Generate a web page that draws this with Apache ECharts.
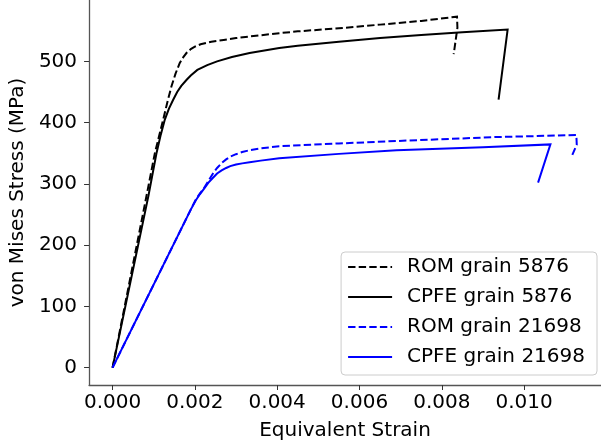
<!DOCTYPE html>
<html>
<head>
<meta charset="utf-8">
<script src="https://cdn.jsdelivr.net/npm/echarts@6/dist/echarts.min.js"></script>
<style>
html,body{margin:0;padding:0;background:#fff;}
#chart{width:601px;height:446px;}
</style>
</head>
<body>
<div id="chart"></div>
<script>
// Data (strain, von Mises stress in MPa)
const romGrain5876 = [
  [0,0],[0.0008,272],[0.00103,351],[0.00123,405],[0.00133,433],[0.00143,459],
  [0.00153,480],[0.00163,497],[0.00172,507],[0.0018,514],[0.0019,520],[0.002,524],
  [0.00214,528],[0.0024,532],[0.0027,535],[0.003,538],[0.00333,540.6],
  [0.00405,546],[0.0045,549],[0.0055,554],[0.0065,560],[0.0075,566],[0.00837,573],
  [0.00838,555],[0.00829,512]
];
const cpfeGrain5876 = [
  [0,0],[0.00087,280],[0.00107,351],[0.00117,380],[0.00127,405],[0.00137,423],
  [0.00147,437],[0.00157,450],[0.00167,460],[0.0018,470],[0.0019,477],[0.00206,486],
  [0.0023,494],[0.00254,500],[0.0029,507],[0.00333,513.6],[0.00405,521.7],
  [0.0045,525.5],[0.0055,532],[0.0065,538],[0.0075,543],[0.0085,547.5],[0.0096,552],
  [0.00938,437.7]
];
const romGrain21698 = [
  [0,0],[0.0019,258],[0.00202,274],[0.00212,284],[0.00222,293],[0.00233,305],
  [0.00244,317],[0.00254,326],[0.00265,334],[0.00276,340],[0.00286,344.5],
  [0.003,348.5],[0.00315,352],[0.00333,355],[0.0036,358],[0.00405,361.5],
  [0.0055,366],[0.0069,370],[0.00929,376.4],[0.01127,379.7],
  [0.01128,364],[0.01117,347]
];
const cpfeGrain21698 = [
  [0,0],[0.0019,258],[0.00202,273],[0.00212,283],[0.00222,292],[0.00233,302],
  [0.00244,310],[0.00254,317],[0.00265,322],[0.00276,326],[0.00286,329],
  [0.003,331.5],[0.00315,333.5],[0.00333,335.5],[0.0036,338],[0.00405,342],
  [0.0055,349],[0.0069,355],[0.009,360],[0.01064,364.5],
  [0.01034,302]
];
const seriesNames = ['ROM grain 5876','CPFE grain 5876','ROM grain 21698','CPFE grain 21698'];
const xTicks = [0,0.002,0.004,0.006,0.008,0.010];
const yTicks = [0,100,200,300,400,500];

const FONT = 'DejaVu Sans';
const dash = [7.4,3.2];
const chart = echarts.init(document.getElementById('chart'), null, {renderer:'canvas'});
function mk(name, data, color, dashed){
  return {
    name: name, type:'line', data: data, symbol:'none', showSymbol:false,
    animation:false, clip:true,
    lineStyle:{color: color, width:2, type: dashed ? dash : 'solid', join:'miter'},
    itemStyle:{color: color}
  };
}
chart.setOption({
  animation:false,
  backgroundColor:'#ffffff',
  grid:{left:86, right:-7.5, top:0, bottom:59.3, containLabel:false},
  xAxis:{
    type:'value', min:-0.000571, max:0.011869,
    name:'Equivalent Strain', nameLocation:'middle', nameGap:36,
    nameTextStyle:{fontFamily:FONT, fontSize:20, color:'#000'},
    axisLine:{show:true, onZero:false, lineStyle:{color:'#555', width:1.3}},
    axisTick:{show:true, length:5, customValues:xTicks, lineStyle:{color:'#333', width:1}},
    axisLabel:{customValues:xTicks, margin:8, fontFamily:FONT, fontSize:20, color:'#000',
      formatter:function(v){return Number(v).toFixed(3);}},
    splitLine:{show:false}
  },
  yAxis:{
    type:'value', min:-28.3, max:600.2,
    name:'von Mises Stress (MPa)', nameLocation:'middle', nameGap:54,
    nameTextStyle:{fontFamily:FONT, fontSize:20, color:'#000'},
    axisLine:{show:true, onZero:false, lineStyle:{color:'#555', width:1.3}},
    axisTick:{show:true, length:5, customValues:yTicks, lineStyle:{color:'#333', width:1}},
    axisLabel:{customValues:yTicks, margin:12, fontFamily:FONT, fontSize:20, color:'#000',
      formatter:function(v){return String(Math.round(v));}},
    splitLine:{show:false}
  },
  legend:{
    orient:'vertical', right:4, top:252,
    data: seriesNames,
    itemWidth:44, itemHeight:20, itemGap:10,
    padding:[5,12,8,6],
    backgroundColor:'rgba(255,255,255,0.8)',
    borderColor:'#cccccc', borderWidth:1, borderRadius:4,
    itemStyle:{color:'rgba(0,0,0,0)', borderColor:'rgba(0,0,0,0)', borderWidth:0, opacity:0},
    textStyle:{fontFamily:FONT, fontSize:20, color:'#000', lineHeight:20, padding:[0,0,0,10]}
  },
  series:[
    mk(seriesNames[0], romGrain5876, '#000000', true),
    mk(seriesNames[1], cpfeGrain5876, '#000000', false),
    mk(seriesNames[2], romGrain21698, '#0000ff', true),
    mk(seriesNames[3], cpfeGrain21698, '#0000ff', false)
  ]
});
</script>
</body>
</html>
